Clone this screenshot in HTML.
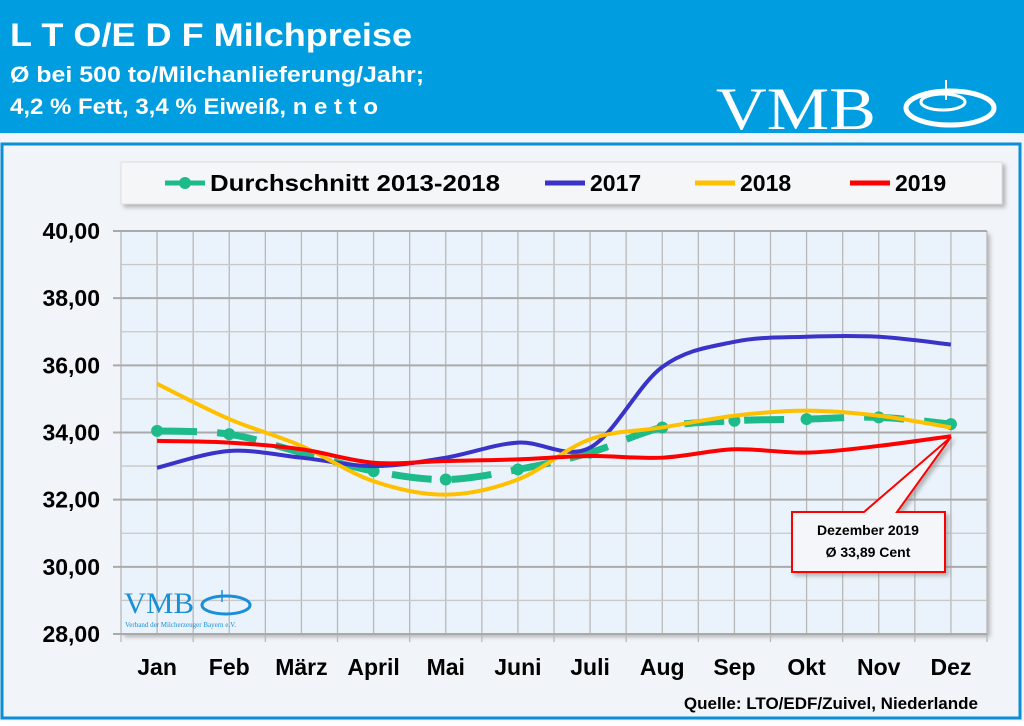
<!DOCTYPE html>
<html><head><meta charset="utf-8"><style>
body{margin:0;width:1024px;height:721px;overflow:hidden;background:#fff;font-family:"Liberation Sans",sans-serif}
</style></head><body>
<svg id="s" width="1024" height="721" xmlns="http://www.w3.org/2000/svg" font-family="Liberation Sans, sans-serif">
<defs>
<filter id="sh" x="-5%" y="-20%" width="115%" height="150%"><feDropShadow dx="3" dy="3" stdDeviation="2" flood-color="#888" flood-opacity="0.6"/></filter>
</defs>
<rect x="0" y="0" width="1024" height="721" fill="#009ee0"/>
<rect x="0" y="133" width="1024" height="588" fill="#f1f4f9"/>
<rect x="2" y="144" width="1018" height="574" fill="#f1f4f9" stroke="#0a8fd6" stroke-width="3"/>
<text x="10" y="46" font-size="32" font-weight="bold" fill="#fff" textLength="402" lengthAdjust="spacingAndGlyphs">L T O/E D F Milchpreise</text>
<text x="10" y="82" font-size="22" font-weight="bold" fill="#fff" textLength="414" lengthAdjust="spacingAndGlyphs">Ø bei 500 to/Milchanlieferung/Jahr;</text>
<text x="10" y="114" font-size="22" font-weight="bold" fill="#fff" textLength="368" lengthAdjust="spacingAndGlyphs">4,2 % Fett, 3,4 % Eiweiß, n e t t o</text>
<text x="716" y="129" font-size="60" font-family="Liberation Serif, serif" fill="#fff" textLength="160" lengthAdjust="spacingAndGlyphs">VMB</text>
<ellipse cx="950" cy="108" rx="44" ry="17" fill="none" stroke="#fff" stroke-width="5"/>
<ellipse cx="943" cy="102" rx="22" ry="8" fill="none" stroke="#fff" stroke-width="3"/>
<line x1="946" y1="80" x2="946" y2="100" stroke="#fff" stroke-width="2"/>
<rect x="121" y="162" width="881" height="42" fill="#f5f6f8" stroke="#ddd" filter="url(#sh)"/>
<g font-size="23" font-weight="bold" fill="#000">
<line x1="165" y1="183" x2="205" y2="183" stroke="#1dbb8a" stroke-width="5"/><circle cx="185" cy="183" r="6" fill="#1dbb8a"/>
<text x="210" y="191" textLength="290" lengthAdjust="spacingAndGlyphs">Durchschnitt 2013-2018</text>
<line x1="545" y1="183" x2="585" y2="183" stroke="#3a33c8" stroke-width="5"/><text x="590" y="191">2017</text>
<line x1="695" y1="183" x2="735" y2="183" stroke="#ffc000" stroke-width="5"/><text x="740" y="191">2018</text>
<line x1="850" y1="183" x2="890" y2="183" stroke="#ff0000" stroke-width="5"/><text x="895" y="191">2019</text>
</g>
<rect x="121" y="231" width="866" height="403" fill="#eaf3fb" filter="url(#sh)"/>
<g id="grid"></g>
<g id="lbl" font-size="23" font-weight="bold" fill="#000"></g>
<text x="124" y="613" font-size="30" font-family="Liberation Serif, serif" fill="#1a8fd8" textLength="70" lengthAdjust="spacingAndGlyphs">VMB</text>
<ellipse cx="226" cy="605" rx="24" ry="9" fill="none" stroke="#1a8fd8" stroke-width="3"/>
<line x1="222" y1="590" x2="222" y2="602" stroke="#1a8fd8" stroke-width="1.5"/>
<text x="125" y="627" font-size="7" font-family="Liberation Serif, serif" fill="#1a8fd8">Verband der Milcherzeuger Bayern e.V.</text>
<g id="series"></g>
<path d="M792,512 L864,512 L951,437 L897,512 L945,512 L945,572 L792,572 Z" fill="#f4f6f9" stroke="#f00" stroke-width="2" filter="url(#sh)"/>
<text x="868" y="535" font-size="14" font-weight="bold" text-anchor="middle">Dezember 2019</text>
<text x="868" y="557" font-size="14" font-weight="bold" text-anchor="middle">Ø 33,89 Cent</text>
<text x="978" y="709" font-size="17" font-weight="bold" text-anchor="end">Quelle: LTO/EDF/Zuivel, Niederlande</text>
</svg>
<script>
var NS="http://www.w3.org/2000/svg";
function el(p,t,a,txt){var e=document.createElementNS(NS,t);for(var k in a)e.setAttribute(k,a[k]);if(txt)e.textContent=txt;document.getElementById(p).appendChild(e);return e;}
var L=121,R=987,T=231,B=634,dx=(R-L)/24;
function X(i){return L+dx*(2*i+1);}function Y(v){return B-(v-28)*(B-T)/12;}
for(var k=0;k<=24;k++)el("grid","line",{x1:L+dx*k,x2:L+dx*k,y1:T,y2:B+(k%2==0?8:0),stroke:"#b8b8b8","stroke-width":1.3});
for(var k=0;k<=12;k++)el("grid","line",{x1:L-(k%2==0?8:0),x2:R,y1:T+(B-T)/12*k,y2:T+(B-T)/12*k,stroke:k%2==0?"#aaa":"#c8c8c8","stroke-width":k%2==0?2:1.3});
for(var v=28;v<=40;v+=2)el("lbl","text",{x:100,y:Y(v)+8,"text-anchor":"end"},v+",00");
var m=["Jan","Feb","März","April","Mai","Juni","Juli","Aug","Sep","Okt","Nov","Dez"];
m.forEach(function(s,i){el("lbl","text",{x:X(i),y:675,"text-anchor":"middle"},s);});
function path(d){var p=d.map(function(v,i){return[X(i),Y(v)];});var s="M"+p[0][0]+","+p[0][1];
for(var i=0;i<p.length-1;i++){var p0=p[i-1]||p[i],p1=p[i],p2=p[i+1],p3=p[i+2]||p2;
s+=" C"+(p1[0]+(p2[0]-p0[0])/6)+","+(p1[1]+(p2[1]-p0[1])/6)+" "+(p2[0]-(p3[0]-p1[0])/6)+","+(p2[1]-(p3[1]-p1[1])/6)+" "+p2[0]+","+p2[1];}return s;}
var avg=[34.05,33.95,33.4,32.85,32.6,32.9,33.4,34.15,34.35,34.4,34.45,34.25];
var y17=[32.95,33.45,33.25,33.0,33.25,33.7,33.55,35.95,36.7,36.85,36.85,36.62];
var y18=[35.45,34.4,33.6,32.55,32.15,32.6,33.8,34.15,34.5,34.65,34.5,34.15];
var y19=[33.75,33.7,33.5,33.1,33.15,33.2,33.3,33.25,33.5,33.4,33.6,33.89];
el("series","path",{d:path(avg),fill:"none",stroke:"#1dbb8a","stroke-width":7,"stroke-dasharray":"40 20"});
avg.forEach(function(v,i){el("series","circle",{cx:X(i),cy:Y(v),r:6,fill:"#1dbb8a"});});
el("series","path",{d:path(y17),fill:"none",stroke:"#3a33c8","stroke-width":4});
el("series","path",{d:path(y18),fill:"none",stroke:"#ffc000","stroke-width":4});
el("series","path",{d:path(y19),fill:"none",stroke:"#ff0000","stroke-width":4});
</script>
</body></html>
